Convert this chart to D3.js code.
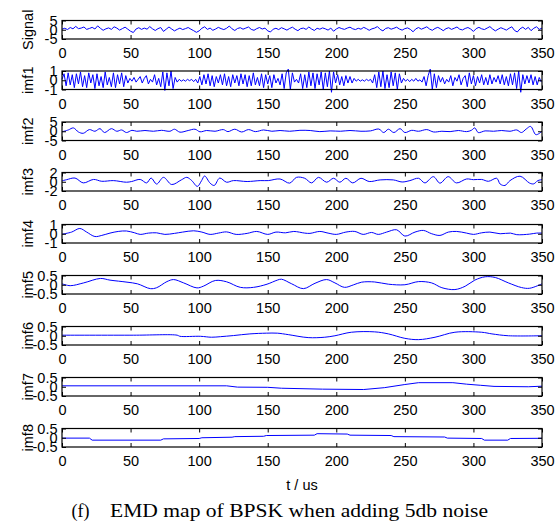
<!DOCTYPE html>
<html>
<head>
<meta charset="utf-8">
<script src="https://cdn.jsdelivr.net/npm/d3@7"></script>
<style>
body { margin: 0; background: #fff; }
svg { display: block; }
</style>
</head>
<body>
<svg id="chart"></svg>
<script>
// sampled series (uniform step in us)
var signalStep = 2;
var signalValues = [
  0.3, 0.8, 0.1, 1.2, 0.5, 1.8, 0.6, 0.9, 1.5, 0.2,
  0.7, 1.3, 0.4, 2.1, 0.8, -0.3, 0.5, 1.0, 0.2, 1.6,
  0.9, -0.2, 0.6, 1.4, 0.3, -0.8, -1.5, 0.4, 1.1, 0.2,
  0.9, 0.3, 1.7, 0.5, -0.4, 0.6, 1.2, -0.9, 0.3, 1.5,
  0.4, -0.6, 0.2, 0.9, 0.1, 0.6, 1.2, 0.3, -0.5, -1.4,
  -0.6, 0.8, 1.6, 0.2, 0.9, -0.3, 0.4, 1.3, 0.6, 0.1,
  0.8, 2.0, 0.5, -0.4, 0.7, 1.1, 0.3, 0.9, 1.5, 0.2,
  -0.3, 0.6, 1.2, 0.4, 0.9, -0.6, -1.2, 0.3, 0.8, 0.1,
  1.1, 0.5, -0.2, 0.7, 1.4, 0.3, -0.5, 0.6, 0.9, 0.2,
  1.5, 0.4, -0.4, 0.8, 0.3, 1.0, 0.5, -0.2, 0.9, -0.8,
  0.4, 1.2, 0.6, 0.2, 0.9, 1.4, 0.5, 0.1, 0.8, 0.3,
  1.3, 0.6, -0.3, 0.5, 0.9, 1.7, 0.2, -0.6, 0.7, 1.1,
  0.3, 0.8, 1.4, 0.4, -0.2, 0.6, 1.0, 0.2, -1.1, 0.5,
  1.2, 0.3, 0.9, 1.6, 0.4, -0.3, 0.7, 1.3, 0.5, -0.5,
  0.6, 1.1, 0.2, 0.8, 1.5, 0.3, -0.1, 0.7, 1.2, 0.4,
  -0.9, 0.6, 1.3, 0.5, 0.1, 0.9, 1.7, 0.4, -0.6, 0.3,
  1.1, 0.5, -0.2, 0.8, 1.6, -0.4, -1.2, 0.5, 1.4, 0.2,
  1.3, -0.5, 0.8, 1.6, 0.2, 0.9
];
var imf1Step = 1.5;
var imf1Values = [
  0.1, 0.7, -0.6, 0.8, -0.5, 0.6, -0.8, 0.7, -0.4, 0.9,
  -0.7, 0.5, -0.8, 0.8, -0.3, 0.6, -0.9, 0.7, -0.6, 0.4,
  -0.8, 0.9, -0.5, 0.3, -0.7, 0.8, -0.8, 0.6, -0.4, 0.8,
  -0.7, 0.5, -0.3, 0.2, -0.1, 0.3, -0.2, 0.1, 0.4, -0.3,
  0.2, 0.5, -0.4, 0.1, -0.2, 0.6, -0.5, 0.2, -0.7, 0.9,
  -1.1, 0.8, -0.6, 1.0, -0.9, 0.3, -0.2, 0.1, -0.1, 0.05,
  -0.1, 0.1, -0.05, 0.1, -0.15, 0.1, -0.3, 0.4, -0.5, 0.6,
  -0.4, 0.7, -0.6, 0.5, -0.7, 0.4, -0.3, 0.6, -0.5, 0.7,
  -0.6, 0.4, -0.7, 0.6, -0.3, 0.5, -0.6, 0.7, -0.4, 0.6,
  -0.7, 0.5, -0.6, 0.8, -0.5, 0.3, -0.6, 0.7, -0.8, 0.6,
  -0.4, 0.5, -0.8, 0.6, -0.3, 0.2, -0.5, 0.7, -0.9, 0.8,
  1.2, -1.0, 0.8, -0.2, 0.1, -0.3, 0.7, -0.9, 0.6, -0.8,
  0.9, -0.6, 0.8, -0.9, 0.7, -0.5, 0.9, -1.0, 0.8, -0.7,
  1.0, -1.3, 0.9, -0.3, 0.6, -0.5, 0.4, -0.6, 0.5, -0.3,
  0.4, -0.3, 0.2, -0.1, 0.1, -0.1, 0.05, -0.1, 0.1, -0.05,
  0.1, -0.3, 0.6, -0.8, 0.9, -0.7, 1.0, -0.9, 0.6, -0.8,
  0.9, -0.6, 0.8, -1.0, 0.7, -0.3, 0.2, -0.1, 0.1, -0.15,
  0.1, -0.1, 0.2, -0.1, 0.05, -0.2, 0.4, -0.6, 0.5, 1.2,
  -1.0, 0.7, -0.8, 0.5, -0.2, 0.3, -0.4, 0.1, -0.2, 0.5,
  -0.6, 0.3, -0.1, 0.6, -0.5, 0.2, 0.5, -0.7, 0.8, -0.4,
  0.5, -0.6, 0.4, -0.3, 0.6, -0.5, 0.3, -0.5, 0.6, -0.4,
  0.3, -0.2, 0.5, -0.4, 0.6, -0.5, 0.4, -0.6, 0.7, -0.5,
  0.8, -0.9, 1.0, -1.3, 0.6, -0.4, 0.5, -0.3, 0.6, -0.5,
  0.4, -0.5, 0.3, -0.2
];

// smoother components: [t, value] read at peaks and troughs
var imf2Points = [
  [0, -0.3], [4.6, 0.7], [8.3, 1.8], [12, -0.4], [15.5, -1.1], [20, 0.9], [24, 0], [27.7, 1.4],
  [31, -0.7], [36, 1.4], [40, 0], [43.5, 0.7], [47, -0.7], [51, 0.5], [54.5, 0], [60.5, 0.4],
  [66.6, 0], [72.6, 0.5], [78.7, 0], [82, 1.1], [86, -0.5], [92, 0.4], [97, 1.1], [100.6, -0.3],
  [105.5, 0.4], [111.6, 0], [117.6, 0.9], [121, -0.2], [126, 1.1], [131, -0.4], [136, 0.9],
  [141, -0.2], [147, 0.7], [153, 0], [159, 0.4], [166, 0], [173.5, 0.5], [181, 0.4], [188, -0.2],
  [195.5, 0.2], [203, 0], [210, 0.4], [218, 0], [225, 0.2], [231, 1.2], [234.6, -0.7], [238, 1.1],
  [242, -0.7], [246.5, 1.4], [250, -0.7], [255, 0.5], [260, 0], [266, 0.9], [271, -0.4], [277, 0],
  [283, -0.2], [289, 0.4], [295, -0.2], [298.5, 0.5], [301, 1.8], [303.5, -0.7], [308.5, 0.2],
  [314.6, 0], [320.6, 0.4], [326.7, 0], [331.6, 0.7], [335, -0.7], [338.5, 1.2], [341.7, 2.6],
  [345.4, -1.8], [347.5, -1.4], [350, 0]
];
var imf3Points = [
  [0, 0.2], [3.4, 0.45], [9.5, 0.8], [15.5, -0.25], [23, 0.5], [29, 0.1], [37.4, 0.25], [47, -0.1],
  [50.8, 0.05], [57, 0.5], [61.7, -0.25], [65, 0.8], [69, -0.5], [74, 0.95], [80, -0.6], [87, 0.4],
  [91, 0.95], [94.6, 0.25], [98.7, -1.0], [101.8, 0.25], [104, 1.25], [108, -0.3], [111, -0.8],
  [115, 0.8], [120, -0.1], [125, 0.25], [135, 0.05], [144.5, 0.25], [150.4, 0.25], [159, 0.6],
  [166, -0.3], [171, 0.95], [177, 0.75], [182, -0.25], [187, 0.95], [193, -0.1], [198, 0.75],
  [202.6, -0.1], [207, 0.75], [212, -0.25], [218, 0.75], [224, 0.05], [232, 0.4], [241.6, 0.4],
  [248, -0.05], [253.7, 0.25], [260, 0.75], [264.6, -0.25], [270.8, 1.1], [275.6, -0.3],
  [281.6, 1.1], [287.6, -0.25], [295, 0.6], [300, 0.45], [306, 0.5], [311, 0.1], [317, 0.75],
  [319.5, -0.5], [323, -0.8], [326.7, 0.25], [334, 1.2], [341, -0.3], [344, -0.45], [347, 0.25],
  [350, 0.45]
];
var imf4Points = [
  [0, -0.05], [7, 0.18], [13, 0.57], [18, 0.18], [24, -0.3], [29, -0.18], [35, 0.07], [41, 0.25],
  [47, 0.3], [53, 0.1], [57, -0.07], [63, 0.07], [69, 0.1], [75, -0.07], [82, 0.04], [88, 0.18],
  [96, 0.32], [102, 0.18], [108, -0.07], [114, 0.07], [120, 0.2], [127, -0.07], [135, 0.04],
  [142, 0.25], [150, -0.07], [156, 0.18], [163, 0.1], [169, 0.25], [177, 0.07], [180.8, 0.04],
  [188, 0.25], [194, 0.07], [200, -0.07], [207, 0.18], [213.5, 0.25], [219.6, -0.07], [225.7, 0.14],
  [230.6, -0.07], [236.7, 0.18], [244, 0.43], [250, -0.25], [257.4, 0.18], [263.5, 0.36],
  [269.6, 0], [275.6, -0.18], [281.7, 0.18], [287.8, 0.25], [295, 0.07], [300, -0.07], [306, 0.1],
  [312, 0.18], [319.5, 0], [327, 0.07], [331.6, -0.1], [341, -0.04], [346, 0.07], [350, 0.07]
];
var imf5Points = [
  [0, 0.05], [6, -0.05], [15.8, 0.1], [28, 0.34], [35, 0.25], [47.4, 0.14], [55, 0.05], [64.4, -0.21],
  [69, -0.16], [76.5, 0.17], [81.4, 0.28], [88.7, 0.1], [98.4, -0.17], [103, -0.08], [111.8, 0.23],
  [120, 0.16], [130, -0.14], [139.7, -0.14], [149.5, 0.03], [157, 0.25], [160, 0.3], [167.5, 0.05],
  [176, -0.21], [184.5, 0.08], [193, 0.28], [199, 0.1], [206, -0.14], [212.4, -0.01], [218.5, 0.14],
  [228, 0.15], [238, 0.03], [250, 0], [260, 0.17], [269.5, 0.1], [277, -0.16], [286.5, -0.26],
  [294, -0.08], [301, 0.25], [308.6, 0.43], [316, 0.39], [325.5, 0.1], [335, -0.15], [341, -0.19],
  [350, 0.05]
];
var imf6Points = [
  [0, 0.03], [52, 0.03], [84, 0.03], [86, -0.03], [101, -0.03], [109, -0.08], [115.5, -0.05],
  [125, 0.01], [137, 0.1], [149, 0.14], [157, 0.14], [165, 0.06], [179.5, -0.1], [191.6, -0.08],
  [199, 0], [211, 0.19], [228, 0.21], [238, 0.1], [250, -0.14], [260, -0.21], [272, -0.08],
  [286.5, 0.19], [306, 0.19], [313.5, 0.1], [325.5, 0], [350, 0]
];
var imf7Points = [
  [0, 0.05], [120, 0.05], [128, -0.02], [150, -0.03], [160, -0.08], [190, -0.13], [220, -0.15],
  [235, -0.05], [250, 0.12], [260, 0.22], [285, 0.22], [295, 0.14], [305, 0.08], [315, 0.02],
  [340, 0], [350, 0.03]
];
var imf8Points = [
  [0, -0.02], [20, -0.02], [22, -0.13], [72, -0.13], [74, -0.06], [100, -0.04], [102, 0], [124, 0.03],
  [126, 0.06], [147, 0.08], [149, 0.12], [184, 0.14], [186, 0.22], [208, 0.2], [210, 0.14],
  [240, 0.12], [242, 0.06], [279, 0.04], [281, -0.02], [306, -0.04], [308, -0.13], [325, -0.13],
  [327, -0.04], [350, -0.03]
];

var panelNames = ["Signal", "imf1", "imf2", "imf3", "imf4", "imf5", "imf6", "imf7", "imf8"];
var panelLimits = [5, 1, 5, 2, 1, 0.5, 0.5, 0.5, 0.5];
var xTicks = [0, 50, 100, 150, 200, 250, 300, 350];
var xLabel = "t / us";
var caption = "EMD map of BPSK when adding 5db noise";

var width = 555, height = 525;
var leftBorder = 62, plotW = 480, panelH = 18.5;
var panelTops = [20.5, 71, 122, 172.5, 224.5, 275.5, 326.5, 377.5, 428.5];
var font = "'Liberation Sans', Arial, sans-serif";
var serif = "'Liberation Serif', 'Times New Roman', serif";

function toPoints(values, step) {
  return values.map(function (v, i) { return [i * step, v]; });
}
var series = [
  { pts: toPoints(signalValues, signalStep), curve: d3.curveLinear },
  { pts: toPoints(imf1Values, imf1Step), curve: d3.curveLinear },
  { pts: imf2Points, curve: d3.curveCatmullRom },
  { pts: imf3Points, curve: d3.curveCatmullRom },
  { pts: imf4Points, curve: d3.curveCatmullRom },
  { pts: imf5Points, curve: d3.curveCatmullRom },
  { pts: imf6Points, curve: d3.curveCatmullRom },
  { pts: imf7Points, curve: d3.curveLinear },
  { pts: imf8Points, curve: d3.curveLinear }
];

var svg = d3.select("#chart").attr("width", width).attr("height", height);
var xScale = d3.scaleLinear().domain([0, 350]).range([leftBorder, leftBorder + plotW]);

panelNames.forEach(function (name, i) {
  var top = panelTops[i];
  var lim = panelLimits[i];
  var yScale = d3.scaleLinear().domain([-lim, lim]).range([top + panelH, top]);
  var yTicks = [-lim, 0, lim];
  var g = svg.append("g");

  var line = d3.line()
    .x(function (d) { return xScale(d[0]); })
    .y(function (d) { return yScale(d[1]); })
    .curve(series[i].curve);
  g.append("path")
    .datum(series[i].pts)
    .attr("fill", "none")
    .attr("stroke", "#0000ff")
    .attr("stroke-width", 1)
    .attr("stroke-linejoin", "round")
    .attr("d", line);

  // bottom axis with labels, ticks pointing inward
  var xb = g.append("g")
    .attr("transform", "translate(0," + (top + panelH) + ")")
    .call(d3.axisBottom(xScale).tickValues(xTicks).tickSize(-4).tickPadding(9)
      .tickFormat(function (d) { return String(d); }));
  var xt = g.append("g")
    .attr("transform", "translate(0," + top + ")")
    .call(d3.axisTop(xScale).tickValues(xTicks).tickSize(-4).tickFormat(""));
  var yl = g.append("g")
    .attr("transform", "translate(" + leftBorder + ",0)")
    .call(d3.axisLeft(yScale).tickValues(yTicks).tickSize(-4).tickPadding(4.5)
      .tickFormat(function (d) { return String(d); }));
  var yr = g.append("g")
    .attr("transform", "translate(" + (leftBorder + plotW) + ",0)")
    .call(d3.axisRight(yScale).tickValues(yTicks).tickSize(-4).tickFormat(""));

  [xb, xt, yl, yr].forEach(function (a) {
    a.select(".domain").remove();
    a.selectAll("line").attr("stroke", "#000");
    a.selectAll("text")
      .attr("fill", "#000")
      .style("font-family", font)
      .style("font-size", "14.5px");
  });

  g.append("rect")
    .attr("x", leftBorder)
    .attr("y", top)
    .attr("width", plotW)
    .attr("height", panelH)
    .attr("fill", "none")
    .attr("stroke", "#000")
    .attr("stroke-width", 1.2);

  g.append("text")
    .attr("transform", "translate(33," + (top + panelH / 2) + ") rotate(-90)")
    .attr("text-anchor", "middle")
    .style("font-family", font)
    .style("font-size", "14.5px")
    .text(name);
});

svg.append("text")
  .attr("x", 302)
  .attr("y", 490)
  .attr("text-anchor", "middle")
  .style("font-family", font)
  .style("font-size", "14.5px")
  .text(xLabel);

svg.append("text")
  .attr("x", 71.5)
  .attr("y", 517)
  .attr("textLength", 18)
  .attr("lengthAdjust", "spacingAndGlyphs")
  .style("font-family", serif)
  .style("font-size", "18px")
  .text("(f)");
svg.append("text")
  .attr("x", 110)
  .attr("y", 517)
  .attr("textLength", 378)
  .attr("lengthAdjust", "spacingAndGlyphs")
  .style("font-family", serif)
  .style("font-size", "18px")
  .text(caption);
</script>
</body>
</html>
